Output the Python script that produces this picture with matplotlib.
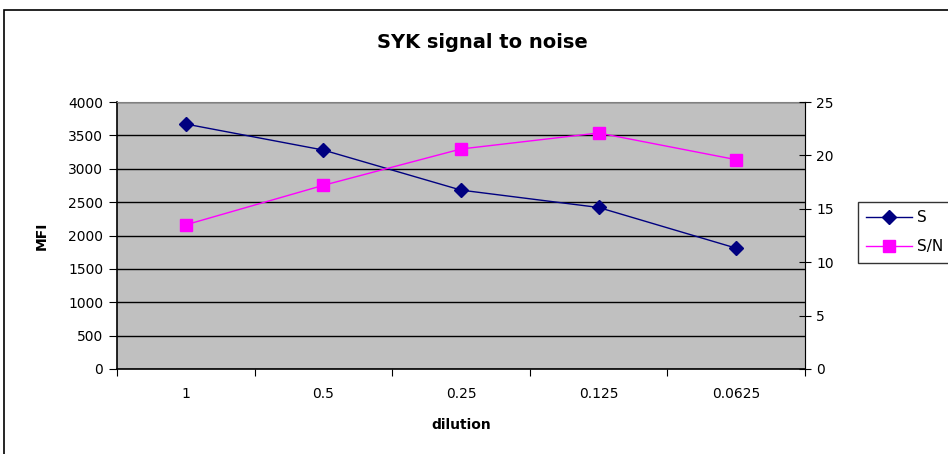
import numpy as np
import matplotlib.pyplot as plt
from matplotlib.patches import Rectangle

plt.rcParams['font.family'] = ['DejaVu Sans']

dilution = ['1', '0.5', '0.25', '0.125', '0.0625']
signal = [3670, 3280, 2680, 2420, 1810]
snr = [13.5, 17.2, 20.6, 22.1, 19.6]

fig = plt.figure(figsize=(9.48, 4.54), dpi=100)
# outer chart frame (cut off at right/bottom like the original)
fig.patches.append(Rectangle((4/948, -0.1), 1.2, 1 - 10/454 + 0.1, transform=fig.transFigure,
                             fill=False, edgecolor='black', lw=1.2))

ax = fig.add_axes([117/948, 85/454, 688/948, 267/454])
ax.set_facecolor('#C0C0C0')
x = np.arange(len(dilution))

ax.set_ylim(0, 4000)
ax.set_yticks(np.arange(0, 4001, 500))
ax.set_xlim(-0.5, len(dilution) - 0.5)
ax.yaxis.grid(True, color='black', lw=1)
ax.set_axisbelow(True)
ax.set_xticks(np.arange(-0.5, len(dilution)), minor=False)
ax.set_xticklabels([])
ax.set_xticks(x, minor=True)
ax.set_xticklabels(dilution, minor=True)
ax.tick_params(axis='x', which='minor', length=0, pad=13, labelsize=10)
ax.tick_params(axis='x', which='major', length=5, direction='out', color='black')
ax.tick_params(axis='y', length=6, direction='out', labelsize=10, pad=4)
for s in ['top', 'right']:
    ax.spines[s].set_color('#808080')
for s in ['left', 'bottom']:
    ax.spines[s].set_color('black')
    ax.spines[s].set_linewidth(1.2)

l1, = ax.plot(x, signal, color='#000080', marker='D', ms=7, lw=1, label='S')

ax2 = ax.twinx()
ax2.set_ylim(0, 25)
ax2.set_yticks(np.arange(0, 26, 5))
ax2.tick_params(axis='y', length=8, direction='inout', labelsize=10, pad=4)
ax2.spines['right'].set_color('black')
for s in ['top', 'left', 'bottom']:
    ax2.spines[s].set_visible(False)
l2, = ax2.plot(x, snr, color='#FF00FF', marker='s', ms=8, lw=1, label='S/N')

ax.set_xlabel('dilution', fontsize=10, fontweight='bold', labelpad=12)
ax.set_ylabel('MFI', fontsize=10, fontweight='bold', labelpad=14)
fig.text(482/948, 1 - 42/454, 'SYK signal to noise', ha='center', va='center',
         fontsize=14, fontweight='bold')

leg = fig.legend([l1, l2], ['S', 'S/N'], loc='upper left', bbox_to_anchor=(858/948, 1 - 202/454),
                 fontsize=11, frameon=True, fancybox=False, edgecolor='black',
                 handlelength=3.0, handletextpad=0.3, borderpad=0.55, labelspacing=0.9,
                 borderaxespad=0)
leg.get_frame().set_linewidth(1)

fig.savefig('out.png', dpi=100)
